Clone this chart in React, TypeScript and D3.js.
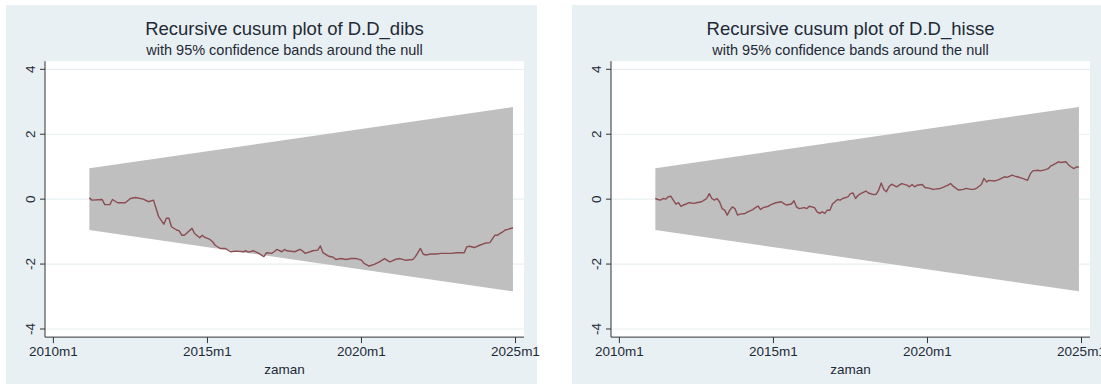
import React from "react";
import * as d3 from "d3";

// Months are counted from 2010m1 (0 = 2010m1, 180 = 2025m1)
const xTickMonths = [0, 60, 120, 180];
const xTickLabels = ["2010m1", "2015m1", "2020m1", "2025m1"];
const yTicks = [-4, -2, 0, 2, 4];

// 95% band: half-width at the first and last recursive residual
const bandMonths = [14, 179];
const bandHalfWidth = [0.95, 2.84];

const dibsMonth = [14, 15, 19, 20, 22, 23, 25, 28, 30, 32, 35, 37, 39, 40, 41, 43, 44, 45, 46, 48, 49, 50, 51, 52, 54, 55, 57, 58, 59, 61, 62, 63, 65, 67, 69, 71, 74, 75, 76, 78, 80, 82, 83, 85, 86, 87, 89, 90, 91, 94, 96, 97, 98, 100, 101, 103, 104, 105, 107, 109, 110, 112, 114, 116, 118, 120, 121, 123, 125, 127, 129, 131, 132, 133, 135, 137, 140, 141, 143, 144, 145, 147, 149, 151, 153, 155, 157, 160, 161, 162, 164, 166, 168, 170, 172, 173, 175, 176, 177, 179];
const dibsValue = [0.04, -0.03, -0.01, -0.17, -0.17, -0.01, -0.11, -0.11, 0.02, 0.05, 0.0, -0.08, -0.03, -0.29, -0.54, -0.77, -0.59, -0.59, -0.85, -0.95, -0.98, -1.11, -1.11, -1.04, -0.9, -1.06, -1.19, -1.11, -1.18, -1.24, -1.31, -1.42, -1.52, -1.52, -1.62, -1.6, -1.62, -1.59, -1.63, -1.59, -1.67, -1.77, -1.65, -1.67, -1.62, -1.55, -1.62, -1.55, -1.59, -1.62, -1.55, -1.59, -1.67, -1.62, -1.59, -1.57, -1.44, -1.65, -1.75, -1.79, -1.86, -1.83, -1.86, -1.83, -1.83, -1.88, -1.98, -2.06, -2.01, -1.93, -1.83, -1.93, -1.9, -1.86, -1.83, -1.88, -1.86, -1.77, -1.52, -1.69, -1.72, -1.69, -1.69, -1.67, -1.67, -1.67, -1.65, -1.65, -1.47, -1.45, -1.49, -1.42, -1.36, -1.34, -1.11, -1.11, -1.01, -0.95, -0.93, -0.88];

const hisseMonth = [14, 15, 16, 17, 18, 19, 20, 21, 22, 23, 24, 25, 26, 27, 29, 30, 32, 33, 34, 35, 36, 37, 38, 39, 40, 41, 42, 43, 44, 45, 46, 47, 49, 50, 52, 53, 54, 55, 56, 58, 59, 61, 63, 64, 65, 67, 68, 69, 70, 72, 73, 74, 76, 77, 78, 79, 80, 81, 82, 83, 85, 86, 87, 89, 90, 91, 92, 93, 94, 96, 97, 99, 100, 101, 102, 103, 104, 105, 106, 108, 109, 110, 112, 113, 114, 115, 116, 118, 119, 121, 122, 123, 125, 126, 128, 129, 130, 132, 134, 135, 137, 138, 139, 141, 142, 143, 144, 146, 147, 148, 150, 151, 153, 154, 155, 157, 158, 159, 160, 161, 163, 164, 166, 167, 168, 170, 171, 172, 174, 175, 176, 177, 178, 179];
const hisseValue = [0.02, -0.01, -0.03, 0.02, 0, 0.07, 0.09, -0.03, -0.15, -0.11, -0.22, -0.18, -0.15, -0.11, -0.13, -0.11, -0.08, -0.03, 0.02, 0.17, 0.02, -0.03, 0.02, -0.08, -0.29, -0.34, -0.49, -0.34, -0.24, -0.29, -0.49, -0.46, -0.44, -0.39, -0.32, -0.26, -0.21, -0.32, -0.26, -0.22, -0.17, -0.11, -0.08, -0.13, -0.18, -0.15, -0.05, -0.24, -0.29, -0.26, -0.29, -0.22, -0.26, -0.39, -0.44, -0.39, -0.44, -0.34, -0.34, -0.15, -0.01, -0.03, 0.02, 0.07, 0.17, 0.19, 0.02, 0.12, 0.17, 0.25, 0.19, 0.14, 0.15, 0.28, 0.5, 0.3, 0.23, 0.38, 0.46, 0.38, 0.43, 0.48, 0.43, 0.38, 0.45, 0.38, 0.43, 0.45, 0.36, 0.33, 0.3, 0.31, 0.33, 0.36, 0.43, 0.48, 0.4, 0.28, 0.3, 0.33, 0.3, 0.3, 0.33, 0.45, 0.64, 0.53, 0.58, 0.56, 0.58, 0.61, 0.69, 0.67, 0.74, 0.71, 0.69, 0.64, 0.61, 0.58, 0.77, 0.87, 0.89, 0.87, 0.91, 0.94, 1.02, 1.1, 1.15, 1.13, 1.15, 1.05, 0.99, 0.94, 0.99, 0.99];

const FONT = "'Liberation Sans', Arial, Helvetica, sans-serif";
const TEXT = "#1e2a36";

const x = d3.scaleLinear().domain([0, 180]).range([53.4, 515.5]);
const y = d3.scaleLinear().domain([-4, 4]).range([329, 69.3]);
const plotLeft = 45;
const plotRight = 524;
const plotTop = y(4.25);
const plotBottom = y(-4.25);
const centerX = (plotLeft + plotRight) / 2;

type PanelProps = { dx: number; title: string; months: number[]; values: number[] };

function Panel({ dx, title, months, values }: PanelProps) {
  const band = d3
    .area<number>()
    .x((_, i) => x(bandMonths[i]))
    .y0((_, i) => y(-bandHalfWidth[i]))
    .y1((_, i) => y(bandHalfWidth[i]));
  const line = d3
    .line<number>()
    .x((_, i) => x(months[i]))
    .y((v) => y(v));

  return (
    <g transform={`translate(${dx},0)`}>
      <rect x={6} y={5} width={531} height={379} fill="#e9f0f3" />
      <rect x={plotLeft} y={plotTop} width={plotRight - plotLeft} height={plotBottom - plotTop} fill="#ffffff" />
      {yTicks.map((t) => (
        <line key={`g${t}`} x1={plotLeft} x2={plotRight} y1={y(t)} y2={y(t)} stroke="#e8eff2" strokeWidth={1.2} />
      ))}
      <path d={band(bandHalfWidth) ?? ""} fill="#bfbfbf" />
      <path d={line(values) ?? ""} fill="none" stroke="#8b4c52" strokeWidth={1.4} strokeLinejoin="round" />

      {/* axes */}
      <line x1={plotLeft} x2={plotLeft} y1={plotTop} y2={plotBottom} stroke="#333" strokeWidth={1} />
      <line x1={plotLeft} x2={plotRight} y1={plotBottom} y2={plotBottom} stroke="#333" strokeWidth={1} />
      {yTicks.map((t) => (
        <g key={`y${t}`}>
          <line x1={plotLeft - 5} x2={plotLeft} y1={y(t)} y2={y(t)} stroke="#333" strokeWidth={1} />
          <text
            transform={`translate(${plotLeft - 10},${y(t)}) rotate(-90)`}
            textAnchor="middle"
            fontFamily={FONT}
            fontSize={13.5}
            fill={TEXT}
          >
            {t}
          </text>
        </g>
      ))}
      {xTickMonths.map((m, i) => (
        <g key={`x${m}`}>
          <line x1={x(m)} x2={x(m)} y1={plotBottom} y2={plotBottom + 6} stroke="#333" strokeWidth={1} />
          <text x={x(m)} y={356} textAnchor="middle" fontFamily={FONT} fontSize={13.5} fill={TEXT}>
            {xTickLabels[i]}
          </text>
        </g>
      ))}
      <text x={centerX} y={374} textAnchor="middle" fontFamily={FONT} fontSize={13.5} fill={TEXT}>
        zaman
      </text>

      <text x={centerX} y={34.5} textAnchor="middle" fontFamily={FONT} fontSize={18.5} fill={TEXT}>
        {title}
      </text>
      <text x={centerX} y={54.5} textAnchor="middle" fontFamily={FONT} fontSize={14.5} fill={TEXT}>
        with 95% confidence bands around the null
      </text>
    </g>
  );
}

export default function App() {
  return (
    <svg
      width={1101}
      height={390}
      style={{ position: "absolute", left: 0, top: 0, background: "#ffffff" }}
    >
      <Panel dx={0} title="Recursive cusum plot of D.D_dibs" months={dibsMonth} values={dibsValue} />
      <Panel dx={566} title="Recursive cusum plot of D.D_hisse" months={hisseMonth} values={hisseValue} />
    </svg>
  );
}
